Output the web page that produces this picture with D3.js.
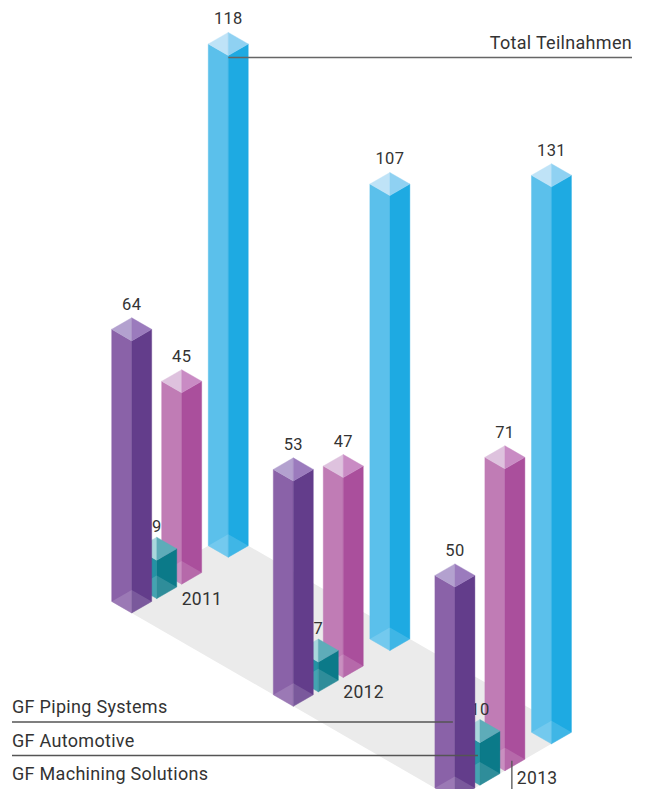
<!DOCTYPE html>
<html>
<head>
<meta charset="utf-8">
<script src="https://cdn.jsdelivr.net/npm/d3@7"></script>
<style>
  body { margin: 0; background: #fff; }
  text { font-family: Roboto, "DejaVu Sans", sans-serif; fill: #333; }
</style>
</head>
<body>
<svg id="chart"></svg>
<script>
// data
var years = ["2011", "2012", "2013"];
var series = ["GF Piping Systems", "GF Automotive", "GF Machining Solutions", "Total Teilnahmen"];
var piping = [64, 53, 50];
var automotive = [9, 7, 10];
var machining = [45, 47, 71];
var total = [118, 107, 131];

var values = [piping, automotive, machining, total];

// face colours: left, right, top-left, top-right
var colors = [
  ["#8a62a8", "#633d8b", "#b3a1cf", "#9b7bbd"],
  ["#2493a4", "#0b7a89", "#a9d7dd", "#5eacb9"],
  ["#c07cb5", "#aa4f9c", "#dec2de", "#c98bc4"],
  ["#5bc0eb", "#1eaae2", "#bfe3f7", "#8fd1f2"]
];

var width = 645, height = 789;

// isometric projection
var C = Math.cos(Math.PI / 6), S = 0.5;
var X0 = 131.7, Y0 = 613;
var L = 23.1;               // side of a bar footprint
var hw = L * C, hh = L * S;

function iso(u, v) { return [X0 + (u + v) * C, Y0 + (v - u) * S]; }

var vScale = d3.scalePoint().domain(years).range([0, 373.2]);
var uScale = d3.scaleOrdinal().domain(series).range([0, 28.9, 57.7, 111.5]);
var hScale = d3.scaleLinear().domain([0, 131]).range([0, 557]);

var svg = d3.select("#chart")
    .attr("width", width)
    .attr("height", height);

// floor
var uMax = uScale(series[3]) + L;
var vMin = -L, vMax = vScale(years[2]);
svg.append("polygon")
    .attr("points", [iso(0, vMin), iso(uMax, vMin), iso(uMax, vMax), iso(0, vMax)].join(" "))
    .attr("fill", "#ebebeb");

// rows
var rows = [];
years.forEach(function(y, i) {
  series.forEach(function(s, j) {
    var f = iso(uScale(s), vScale(y));
    rows.push({year: y, si: j, value: values[j][i], fx: f[0], fy: f[1]});
  });
});

// paint back to front
rows.sort(function(a, b) { return a.fy - b.fy; });

function pts(arr) { return arr.map(function(p) { return p.join(","); }).join(" "); }

rows.forEach(function(d) {
  var H = hScale(d.value);
  var fx = d.fx, fy = d.fy;
  var fb = [fx, fy], lb = [fx - hw, fy - hh], bb = [fx, fy - 2 * hh], rb = [fx + hw, fy - hh];
  var ft = [fx, fy - H], lt = [fx - hw, fy - hh - H], bt = [fx, fy - 2 * hh - H], rt = [fx + hw, fy - hh - H];
  var col = colors[d.si];
  var g = svg.append("g");

  g.append("polygon").attr("points", pts([lb, fb, ft, lt]))
      .attr("fill", col[0]).attr("stroke", col[0]).attr("stroke-width", 0.4);
  g.append("polygon").attr("points", pts([fb, rb, rt, ft]))
      .attr("fill", col[1]).attr("stroke", col[1]).attr("stroke-width", 0.4);
  g.append("polygon").attr("points", pts([bt, lt, ft]))
      .attr("fill", col[2]).attr("stroke", col[2]).attr("stroke-width", 0.4);
  g.append("polygon").attr("points", pts([bt, ft, rt]))
      .attr("fill", col[3]).attr("stroke", col[3]).attr("stroke-width", 0.4);
  // translucent bottom
  g.append("polygon").attr("points", pts([lb, bb, rb, fb]))
      .attr("fill", "#fff").attr("fill-opacity", 0.15);

  g.append("text")
      .attr("x", fx)
      .attr("y", bt[1] - (d.si == 1 ? 5 : 8))
      .attr("text-anchor", "middle")
      .style("font-size", "16.5px")
      .style("letter-spacing", "0.3px")
      .text(d.value);
});

// year labels, next to the machining bar
rows.filter(function(d) { return d.si == 2; }).forEach(function(d) {
  var y = d.fy + 21, x = d.fx;
  if (y > height - 4) { y = height - 5; x = d.fx + 12; }
  svg.append("text")
      .attr("x", x)
      .attr("y", y)
      .style("font-size", "17.5px")
      .style("letter-spacing", "0.3px")
      .text(d.year);
});

// legend with leader lines to the 2013 bars
var last = years[2];
series.slice(0, 3).forEach(function(s, j) {
  var base = 713 + j * 33.5;
  var d = rows.filter(function(r) { return r.year == last && r.si == j; })[0];
  var path = j < 2
      ? "M12," + (base + 9) + "H" + (d.fx - 2)
      : "M12," + (height + 3) + "H" + (d.fx + 7) + "V" + (d.fy - 10);
  svg.append("path")
      .attr("d", path)
      .attr("fill", "none")
      .attr("stroke", "#555")
      .attr("stroke-width", 1.3);
  svg.append("text")
      .attr("x", 12)
      .attr("y", base)
      .style("font-size", "18px")
      .style("letter-spacing", "0.3px")
      .text(s);
});

// total label
var t = rows.filter(function(r) { return r.year == years[0] && r.si == 3; })[0];
var ty = t.fy - hScale(t.value) + 2;
svg.append("path")
    .attr("d", "M" + t.fx + "," + ty + "H632")
    .attr("stroke", "#666")
    .attr("stroke-width", 1.5);
svg.append("text")
    .attr("x", 632)
    .attr("y", ty - 9)
    .attr("text-anchor", "end")
    .style("font-size", "18px")
    .style("letter-spacing", "0.3px")
    .text(series[3]);
</script>
</body>
</html>
